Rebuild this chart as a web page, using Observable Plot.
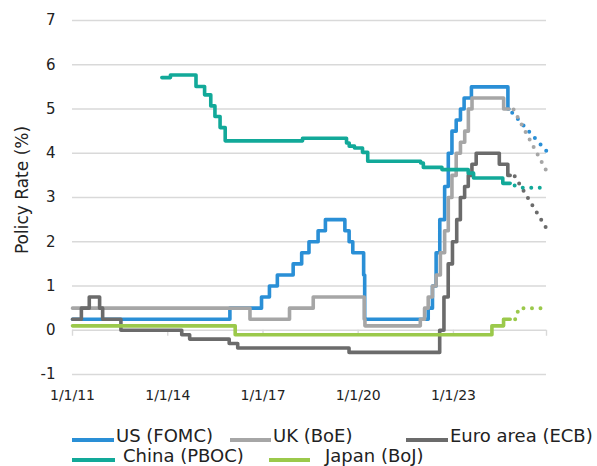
<!DOCTYPE html>
<html><head><meta charset="utf-8">
<script src="https://cdn.jsdelivr.net/npm/d3@7"></script>
<script src="https://cdn.jsdelivr.net/npm/@observablehq/plot@0.6"></script>
<style>
body{margin:0;background:#fff;font-family:"DejaVu Sans",sans-serif;color:#222}
#wrap{position:relative;width:597px;height:466px;overflow:hidden}
#ylab{position:absolute;left:22px;top:190px;transform:translate(-50%,-50%) rotate(-90deg);font-size:17px;white-space:nowrap;color:#222}
.lg-s{position:absolute;height:4px}
.lg-t{position:absolute;font-size:18px;line-height:18px;white-space:nowrap;color:#222}
</style></head><body>
<div id="wrap"><div id="chart"></div><div id="ylab">Policy Rate (%)</div></div>
<script>
// ---- data ----
const seriesNames = ["US (FOMC)", "UK (BoE)", "Euro area (ECB)", "China (PBOC)", "Japan (BoJ)"];
const seriesColors = ["#2a8fd6", "#a6a6a6", "#6b6b6b", "#12a999", "#9bc94b"];

const usDates = ["2011-01-01","2015-12-17","2016-12-15","2017-03-16","2017-06-15","2017-12-14","2018-03-22","2018-06-14","2018-09-27","2018-12-20","2019-08-01","2019-09-19","2019-10-31","2020-03-04","2020-03-16","2022-03-17","2022-05-05","2022-06-16","2022-07-28","2022-09-22","2022-11-03","2022-12-15","2023-02-02","2023-03-23","2023-05-04","2023-07-27","2024-09-19","2024-09-30"];
const usRates = [0.25,0.5,0.75,1.0,1.25,1.5,1.75,2.0,2.25,2.5,2.25,2.0,1.75,1.25,0.25,0.5,1.0,1.75,2.5,3.25,4.0,4.5,4.75,5.0,5.25,5.5,5.0,5.0];

const ukDates = ["2011-01-01","2016-08-04","2017-11-02","2018-08-02","2020-03-11","2020-03-19","2021-12-16","2022-02-03","2022-03-17","2022-05-05","2022-06-16","2022-08-04","2022-09-22","2022-11-03","2022-12-15","2023-02-02","2023-03-23","2023-05-11","2023-06-22","2023-08-03","2024-08-01","2024-09-30"];
const ukRates = [0.5,0.25,0.5,0.75,0.25,0.1,0.25,0.5,0.75,1.0,1.25,1.75,2.25,3.0,3.5,4.0,4.25,4.5,5.0,5.25,5.0,5.0];

const ecbDates = ["2011-01-01","2011-04-13","2011-07-13","2011-11-09","2011-12-14","2012-07-11","2014-06-11","2014-09-10","2015-12-09","2016-03-16","2019-09-18","2022-07-27","2022-09-14","2022-11-02","2022-12-21","2023-02-08","2023-03-22","2023-05-10","2023-06-21","2023-08-02","2023-09-20","2024-06-12","2024-09-18","2024-10-15"];
const ecbRates = [0.25,0.5,0.75,0.5,0.25,0.0,-0.1,-0.2,-0.3,-0.4,-0.5,0.0,0.75,1.5,2.0,2.5,3.0,3.25,3.5,3.75,4.0,3.75,3.5,3.5];

const cnDates = ["2013-10-25","2014-02-01","2014-11-22","2015-03-01","2015-05-11","2015-06-28","2015-08-26","2015-10-24","2018-04-01","2019-08-20","2019-09-20","2019-11-20","2020-02-20","2020-04-20","2021-12-20","2022-01-20","2022-08-22","2023-06-20","2023-08-21","2024-07-22","2024-10-15"];
const cnRates = [5.71,5.77,5.51,5.32,5.07,4.83,4.58,4.28,4.34,4.23,4.16,4.12,4.02,3.82,3.78,3.68,3.63,3.55,3.44,3.32,3.32];

const jpDates = ["2011-01-01","2016-02-16","2024-03-19","2024-07-31","2024-10-15"];
const jpRates = [0.1,-0.1,0.1,0.25,0.25];

// projections (dotted)
const usProjDates = ["2024-09-30","2025-12-07"];
const usProjRates = [5.0,4.05];
const ukProjDates = ["2024-09-30","2024-11-20","2025-12-07"];
const ukProjRates = [5.0,5.0,3.6];
const ecbProjDates = ["2024-10-15","2024-12-01","2025-12-07"];
const ecbProjRates = [3.5,3.5,2.3];
const cnProjDates = ["2024-10-15","2024-12-25","2025-02-15","2025-10-01","2025-12-07"];
const cnProjRates = [3.32,3.25,3.22,3.22,3.16];
const jpProjDates = ["2024-10-15","2024-12-20","2025-01-20","2025-12-07"];
const jpProjRates = [0.25,0.25,0.5,0.5];

const xTickDates = ["2011-01-01","2014-01-01","2017-01-01","2020-01-01","2023-01-01"];
const xTickLabels = ["1/1/11","1/1/14","1/1/17","1/1/20","1/1/23"];
const yTicks = [-1,0,1,2,3,4,5,6,7];
const yTickLabels = ["-1","0","1","2","3","4","5","6","7"];
const xDomain = ["2011-01-01","2025-12-07"];

// ---- build ----
const rows = (ds, vs) => ds.map((d, i) => ({date: new Date(d), value: vs[i]}));
const actual = [rows(usDates, usRates), rows(ukDates, ukRates), rows(ecbDates, ecbRates), rows(cnDates, cnRates), rows(jpDates, jpRates)];
const proj = [rows(usProjDates, usProjRates), rows(ukProjDates, ukProjRates), rows(ecbProjDates, ecbProjRates), rows(cnProjDates, cnProjRates), rows(jpProjDates, jpProjRates)];

const tickTimes = xTickDates.map(d => new Date(d));
const labelMap = new Map(tickTimes.map((d, i) => [+d, xTickLabels[i]]));
const yLabelMap = new Map(yTicks.map((v, i) => [v, yTickLabels[i]]));
const tickMarks = tickTimes.concat([new Date(xDomain[1])]);
const grid = "#d9d9d9";

const marks = [
  Plot.ruleY(yTicks.filter(v => v !== 0), {stroke: grid, strokeWidth: 1.4}),
  Plot.ruleY([0], {stroke: grid, strokeWidth: 1.4}),
  Plot.ruleX(tickMarks, {y1: 0, y2: 0, insetBottom: -6, stroke: grid, strokeWidth: 1.4}),
  Plot.axisY({ticks: yTicks, tickFormat: v => yLabelMap.get(v), tickSize: 0, tickPadding: 17, fontSize: 15, label: null}),
  Plot.axisX({ticks: tickTimes, tickFormat: d => labelMap.get(+d), tickSize: 0, tickPadding: 16, fontSize: 14, label: null})
];
proj.forEach((p, i) => marks.push(Plot.line(p, {x: "date", y: "value", stroke: seriesColors[i], strokeWidth: 4, strokeDasharray: "0 8.5", strokeDashoffset: -5, strokeLinecap: "round"})));
actual.forEach((a, i) => marks.push(Plot.line(a, {x: "date", y: "value", curve: "step-after", stroke: seriesColors[i], strokeWidth: 3.6, strokeLinejoin: "round"})));

const chart = Plot.plot({
  width: 597, height: 410,
  marginLeft: 72, marginRight: 51, marginTop: 20, marginBottom: 36,
  style: {fontFamily: "DejaVu Sans", color: "#222", background: "#fff"},
  x: {type: "utc", domain: xDomain.map(d => new Date(d))},
  y: {domain: [-1, 7]},
  marks
});
document.getElementById("chart").appendChild(chart);

// legend (HTML, below the SVG)
const legendLayout = [
  {sx: 72, sw: 42, tx: 116, row: 0},
  {sx: 230, sw: 41, tx: 273, row: 0},
  {sx: 406, sw: 42, tx: 450, row: 0},
  {sx: 72, sw: 43, tx: 123, row: 1},
  {sx: 269, sw: 41, tx: 325, row: 1}
];
const rowText = [427, 447], rowSample = [438, 458];
const wrap = document.getElementById("wrap");
seriesNames.forEach((name, i) => {
  const L = legendLayout[i];
  const s = document.createElement("div");
  s.className = "lg-s";
  s.style.left = L.sx + "px"; s.style.width = L.sw + "px"; s.style.top = rowSample[L.row] + "px";
  s.style.background = seriesColors[i];
  wrap.appendChild(s);
  const t = document.createElement("div");
  t.className = "lg-t";
  t.style.left = L.tx + "px"; t.style.top = rowText[L.row] + "px";
  t.textContent = name;
  wrap.appendChild(t);
});
</script>
</body></html>
